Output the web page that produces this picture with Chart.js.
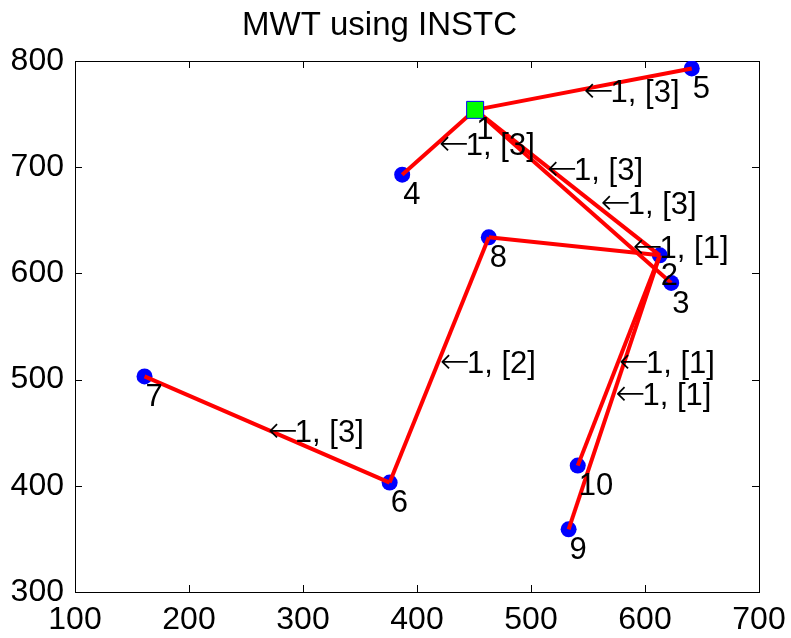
<!DOCTYPE html>
<html>
<head>
<meta charset="utf-8">
<title>MWT using INSTC</title>
<script src="https://cdn.jsdelivr.net/npm/chart.js@4.4.0/dist/chart.umd.min.js"></script>
<style>
  html, body { margin: 0; padding: 0; background: #fff; }
</style>
</head>
<body>
<canvas id="mwt" width="791" height="638"></canvas>
<script>
// DATA
// node positions, node n sits at index n-1
const nodeX = [451, 613, 623, 387, 641, 376, 161, 463, 533, 541];
const nodeY = [754, 617, 591, 693, 793, 403, 503, 634, 359, 419];
const nodeNames = ["1", "2", "3", "4", "5", "6", "7", "8", "9", "10"];

// tree edges (1-based node ids)
const edgeFrom = [1, 1, 1, 1, 2, 8, 6, 2, 2];
const edgeTo = [5, 4, 2, 3, 8, 6, 7, 10, 9];

// edge annotations, anchored in data units
const labelX = [546, 419, 514, 561, 589, 577, 574, 420, 269];
const labelY = [773, 723, 700, 668, 626, 518, 488, 518, 453];
const labelText = ["1, [3]", "1, [3]", "1, [3]", "1, [3]", "1, [1]", "1, [1]", "1, [1]", "1, [2]", "1, [3]"];

const xTicks = [100, 200, 300, 400, 500, 600, 700];
const yTicks = [300, 400, 500, 600, 700, 800];

const FONT = "'Liberation Sans', Arial, Helvetica, sans-serif";
const ARROW_FONT = "'DejaVu Sans', sans-serif";

// DATASETS
const edgeSets = edgeFrom.map((a, i) => {
  const b = edgeTo[i];
  return {
    type: "line",
    data: [{ x: nodeX[a - 1], y: nodeY[a - 1] }, { x: nodeX[b - 1], y: nodeY[b - 1] }],
    borderColor: "#ff0000",
    borderWidth: 4,
    pointRadius: 0,
    fill: false,
    order: 2
  };
});

const nodeSet = {
  type: "scatter",
  data: nodeX.slice(1).map((x, i) => ({ x, y: nodeY[i + 1] })),
  pointStyle: "circle",
  pointRadius: 8,
  pointBorderWidth: 0,
  pointBackgroundColor: "#0000ff",
  order: 3
};

// node 1 is the source, drawn as a green square on top
const sourceSet = {
  type: "scatter",
  data: [{ x: nodeX[0], y: nodeY[0] }],
  pointStyle: "rect",
  pointRadius: 12,
  pointBorderWidth: 1,
  pointBorderColor: "#0000ff",
  pointBackgroundColor: "#00ff00",
  order: 1
};

// PLUGINS
// matlab style box with inward ticks on all four sides
const boxPlugin = {
  id: "box",
  beforeDatasetsDraw(chart) {
    const { ctx, chartArea: a, scales } = chart;
    const len = 7;
    ctx.save();
    ctx.strokeStyle = "#000";
    ctx.lineWidth = 1;
    ctx.beginPath();
    xTicks.forEach(v => {
      const px = Math.round(scales.x.getPixelForValue(v)) + 0.5;
      ctx.moveTo(px, a.bottom); ctx.lineTo(px, a.bottom - len);
      ctx.moveTo(px, a.top); ctx.lineTo(px, a.top + len);
    });
    yTicks.forEach(v => {
      const py = Math.round(scales.y.getPixelForValue(v)) + 0.5;
      ctx.moveTo(a.left, py); ctx.lineTo(a.left + len, py);
      ctx.moveTo(a.right, py); ctx.lineTo(a.right - len, py);
    });
    ctx.stroke();
    ctx.strokeRect(Math.round(a.left) + 0.5, Math.round(a.top) + 0.5,
      Math.round(a.right - a.left), Math.round(a.bottom - a.top));
    ctx.restore();
  }
};

const textPlugin = {
  id: "texts",
  afterDatasetsDraw(chart) {
    const { ctx, scales } = chart;
    ctx.save();
    ctx.fillStyle = "#000";
    ctx.textAlign = "left";
    ctx.textBaseline = "middle";

    // node ids below right of each node
    ctx.font = `31px ${FONT}`;
    nodeNames.forEach((name, i) => {
      const px = scales.x.getPixelForValue(nodeX[i]);
      const py = scales.y.getPixelForValue(nodeY[i]);
      ctx.fillText(name, px + 1, py + 21);
    });

    // edge annotations with a leading arrow
    labelText.forEach((t, i) => {
      const px = scales.x.getPixelForValue(labelX[i]);
      const py = scales.y.getPixelForValue(labelY[i]);
      ctx.font = `200 36px ${ARROW_FONT}`;
      ctx.fillText("\u2190", px, py + 3);
      const w = ctx.measureText("\u2190").width;
      ctx.font = `31px ${FONT}`;
      ctx.fillText(t, px + w - 3, py + 4);
    });
    ctx.restore();
  }
};

// CHART
new Chart(document.getElementById("mwt"), {
  type: "scatter",
  data: { datasets: [...edgeSets, nodeSet, sourceSet] },
  options: {
    responsive: false,
    animation: false,
    layout: { padding: { left: 0, right: 32, top: 0, bottom: 0 } },
    plugins: {
      legend: { display: false },
      tooltip: { enabled: false },
      title: {
        display: true,
        text: "MWT using INSTC",
        color: "#000",
        font: { family: FONT, size: 33, weight: "normal" },
        padding: { top: 6, bottom: 15.4 }
      }
    },
    scales: {
      x: {
        type: "linear",
        min: 100,
        max: 700,
        afterBuildTicks: s => { s.ticks = xTicks.map(v => ({ value: v })); },
        afterFit: s => { s.height = 46; },
        grid: { display: false },
        border: { display: false },
        ticks: { color: "#000", font: { family: FONT, size: 32 }, padding: 1, maxRotation: 0, autoSkip: false }
      },
      y: {
        type: "linear",
        min: 300,
        max: 800,
        afterBuildTicks: s => { s.ticks = yTicks.map(v => ({ value: v })); },
        afterFit: s => { s.width = 75; },
        grid: { display: false },
        border: { display: false },
        ticks: { color: "#000", font: { family: FONT, size: 32 }, padding: 3, autoSkip: false }
      }
    }
  },
  plugins: [boxPlugin, textPlugin]
});
</script>
</body>
</html>
